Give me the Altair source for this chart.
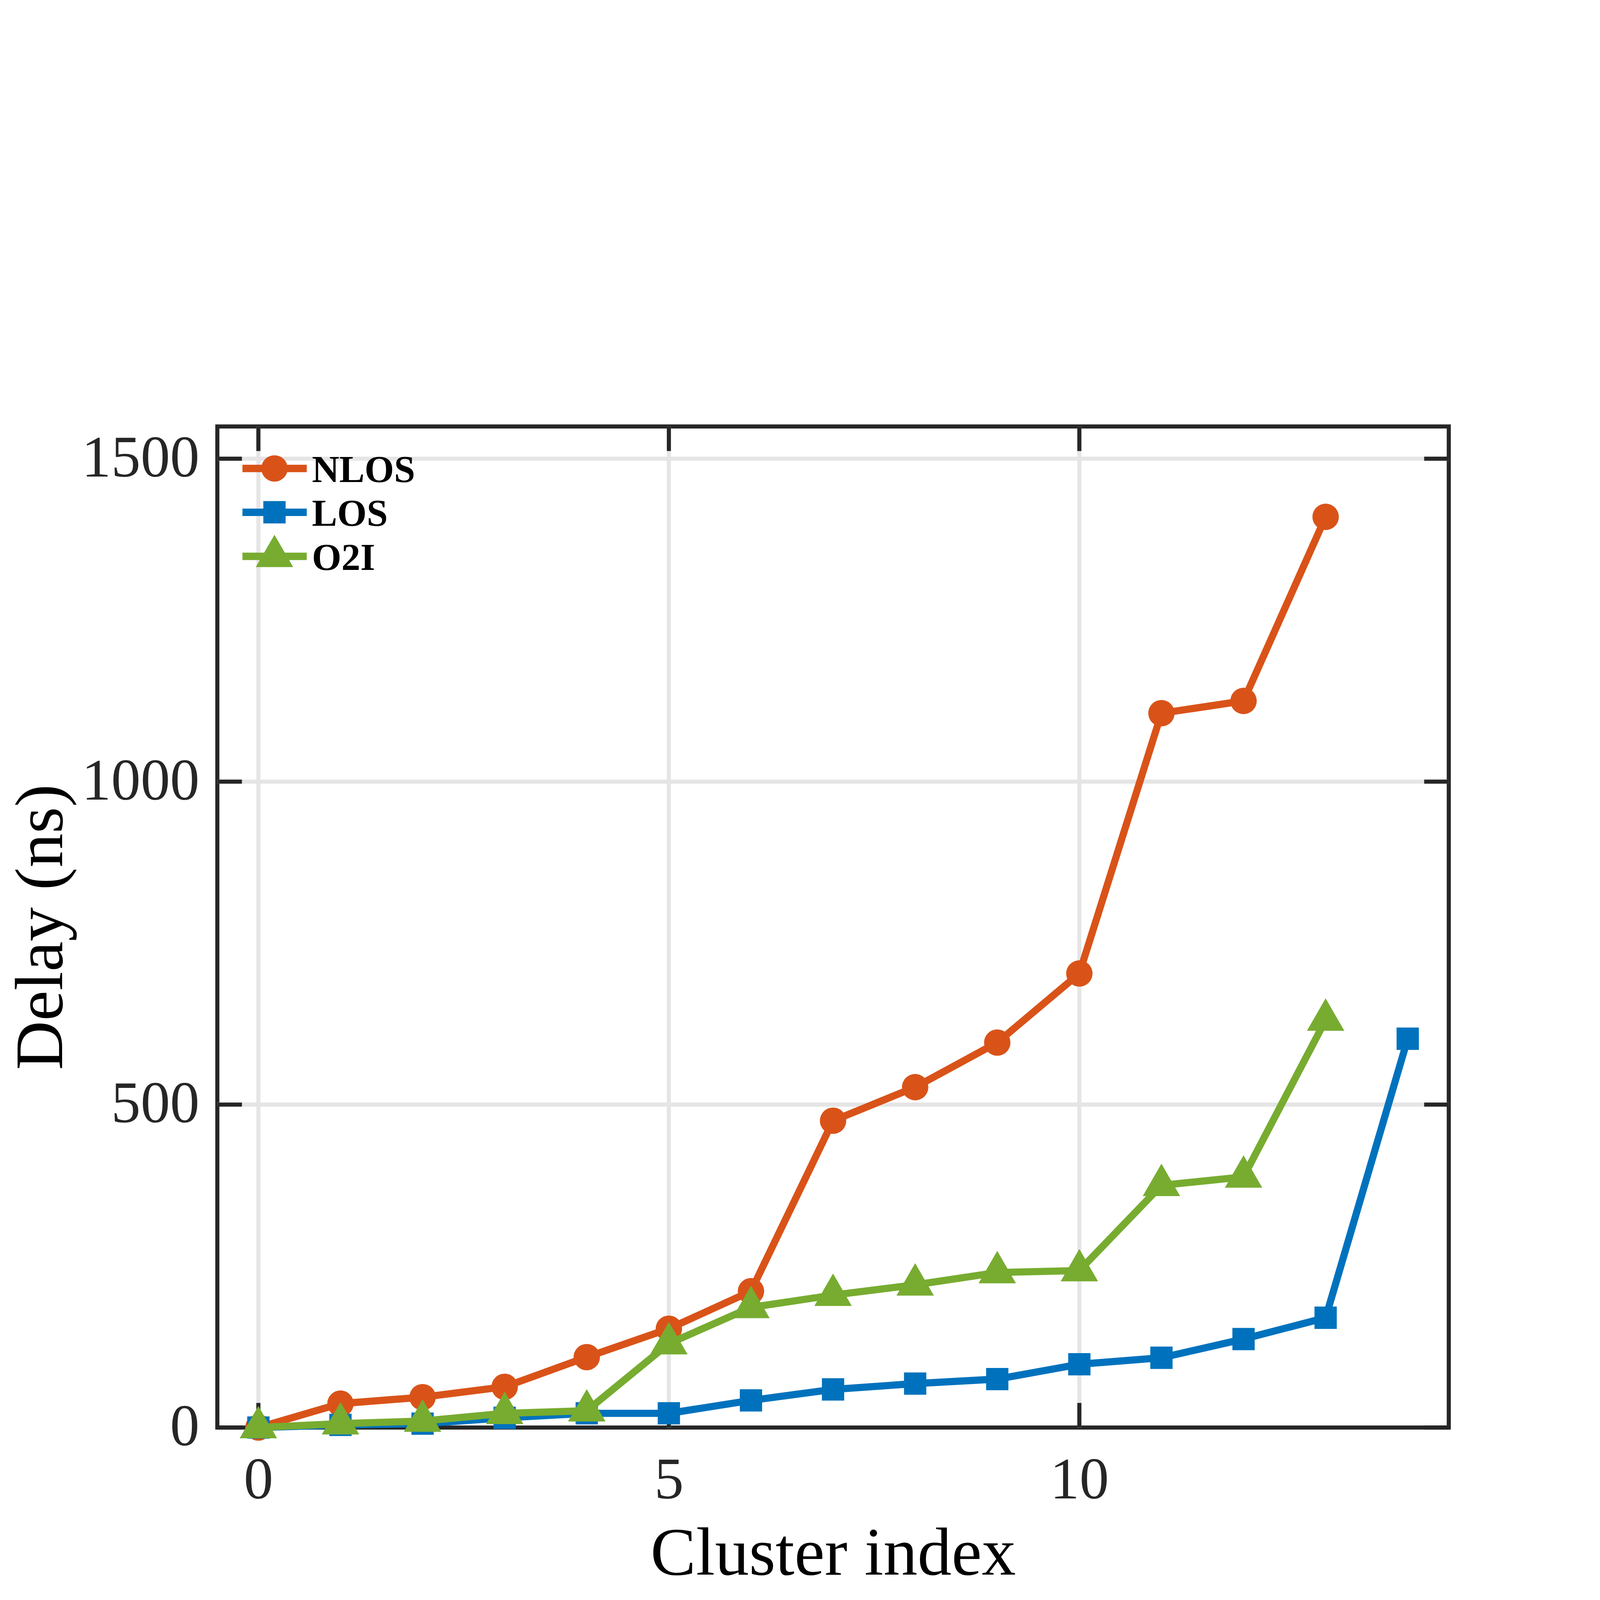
import altair as alt
import pandas as pd

# ---- data ----
cluster_index = list(range(15))
nlos_delay = [0, 37, 47, 63, 109, 153, 211, 475, 527, 596, 703, 1106, 1125, 1410]
los_delay = [0, 4, 6, 15, 22, 22, 42, 59, 68, 75, 98, 108, 137, 170, 602]
o2i_delay = [0, 6, 10, 22, 26, 130, 186, 205, 221, 240, 243, 375, 388, 631]
series_names = ["NLOS", "LOS", "O2I"]
series_colors = ["#D95319", "#0072BD", "#77AC30"]
x_ticks = [0, 5, 10]
y_ticks = [0, 500, 1000, 1500]
y_grid = [500, 1000, 1500]

rows = []
for name, vals in zip(series_names, [nlos_delay, los_delay, o2i_delay]):
    for i, v in enumerate(vals):
        rows.append({"cluster": cluster_index[i], "delay": v, "series": name})
df = pd.DataFrame(rows)
legend_df = pd.DataFrame({"series": series_names})

TOTAL_W, TOTAL_H = 6220, 4900
TICK = 96
FONT = "Liberation Serif"
AXC = "#262626"

TRI = "M0,-1.155L1,0.577L-1,0.577Z"
marker_size = {"NLOS": 10609, "LOS": 7569, "O2I": 21316}
marker_shape = {"NLOS": "circle", "LOS": "square", "O2I": TRI}
legend_row_y = {"NLOS": 164, "LOS": 335, "O2I": 507}

xs = alt.Scale(domain=[-0.5, 14.5], nice=False, zero=False)
ys = alt.Scale(domain=[0, 1550], nice=False, zero=False)
cs = alt.Scale(domain=series_names, range=series_colors)

x_axis = alt.Axis(values=x_ticks, title="Cluster index", grid=False, ticks=False, tickSize=0,
                  domain=False, labelFont=FONT, labelFontSize=230, labelColor=AXC,
                  labelPadding=277, labelBaseline="alphabetic", labelFlush=False,
                  labelOverlap=False, labelLimit=0, titleFont=FONT, titleFontSize=266,
                  titleFontWeight="normal", titleColor="black",
                  titleX=alt.ExprRef(expr="width / 2"), titleY=573,
                  titleBaseline="alphabetic", titleAlign="center", titleLimit=0, format="d")
y_axis = alt.Axis(values=y_ticks, title="Delay (ns)", grid=False, ticks=False, tickSize=0,
                  domain=False, labelFont=FONT, labelFontSize=230, labelColor=AXC,
                  labelPadding=70, labelFlush=False, labelOverlap=False, labelLimit=0,
                  format="d", titleFont=FONT, titleFontSize=266, titleFontWeight="normal",
                  titleColor="black", titleX=-606, titleY=alt.ExprRef(expr="height / 2"),
                  titleAngle=270, titleBaseline="alphabetic", titleAlign="center", titleLimit=0)

X = alt.X("cluster:Q", scale=xs, axis=x_axis)
Y = alt.Y("delay:Q", scale=ys, axis=y_axis)
C = alt.Color("series:N", scale=cs, legend=None)

# grid lines
gy = alt.Chart(pd.DataFrame({"delay": y_grid})).mark_rule(color="#e5e5e5", strokeWidth=16).encode(
    y=Y, x=alt.value(0), x2=alt.value("width"))
gx = alt.Chart(pd.DataFrame({"cluster": x_ticks})).mark_rule(color="#e5e5e5", strokeWidth=16).encode(
    x=X, y=alt.value(0), y2=alt.value("height"))

# inward ticks on all four sides
ytd = pd.DataFrame({"delay": y_ticks})
xtd = pd.DataFrame({"cluster": x_ticks})
tl = alt.Chart(ytd).mark_rule(color=AXC, strokeWidth=16).encode(
    y=Y, x=alt.value(0), x2=alt.value(TICK))
tr = alt.Chart(ytd).mark_rule(color=AXC, strokeWidth=16).encode(
    y=Y, x=alt.value({"expr": "width - %d" % TICK}), x2=alt.value("width"))
tb = alt.Chart(xtd).mark_rule(color=AXC, strokeWidth=16).encode(
    x=X, y=alt.value({"expr": "height - %d" % TICK}), y2=alt.value("height"))
tt = alt.Chart(xtd).mark_rule(color=AXC, strokeWidth=16).encode(
    x=X, y=alt.value(0), y2=alt.value(TICK))

layers = [gy, gx, tl, tr, tb, tt]
for name in series_names:
    sub = alt.Chart(df).transform_filter(alt.datum.series == name)
    line = sub.mark_line(strokeWidth=28, strokeJoin="round").encode(x=X, y=Y, color=C)
    pts = sub.mark_point(filled=True, opacity=1, strokeWidth=0,
                         shape=marker_shape[name], size=marker_size[name]).encode(x=X, y=Y, color=C)
    layers += [line, pts]

# legend (top-left, inside the axes): line + marker + bold label per series
for name in series_names:
    ld = alt.Chart(legend_df).transform_filter(alt.datum.series == name)
    ry = legend_row_y[name]
    layers.append(ld.mark_rule(strokeWidth=29).encode(
        x=alt.value(98), x2=alt.value(349), y=alt.value(ry), color=C))
    layers.append(ld.mark_point(filled=True, opacity=1, strokeWidth=0, shape=marker_shape[name],
                                size=marker_size[name]).encode(
        x=alt.value(223), y=alt.value(ry), color=C))
    layers.append(ld.mark_text(align="left", baseline="alphabetic", font=FONT, fontSize=148,
                               fontWeight="bold", color="black").encode(
        x=alt.value(369), y=alt.value(ry + 53), text="series:N"))

chart = alt.layer(*layers).properties(
    width=TOTAL_W, height=TOTAL_H,
    padding={"left": 17, "top": 359, "right": 570, "bottom": 0},
    autosize=alt.AutoSizeParams(type="fit", contains="padding"),
    background="white",
).configure_view(stroke=AXC, strokeWidth=16)

chart.save("out.html", embed_options={"renderer": "svg", "actions": False})
